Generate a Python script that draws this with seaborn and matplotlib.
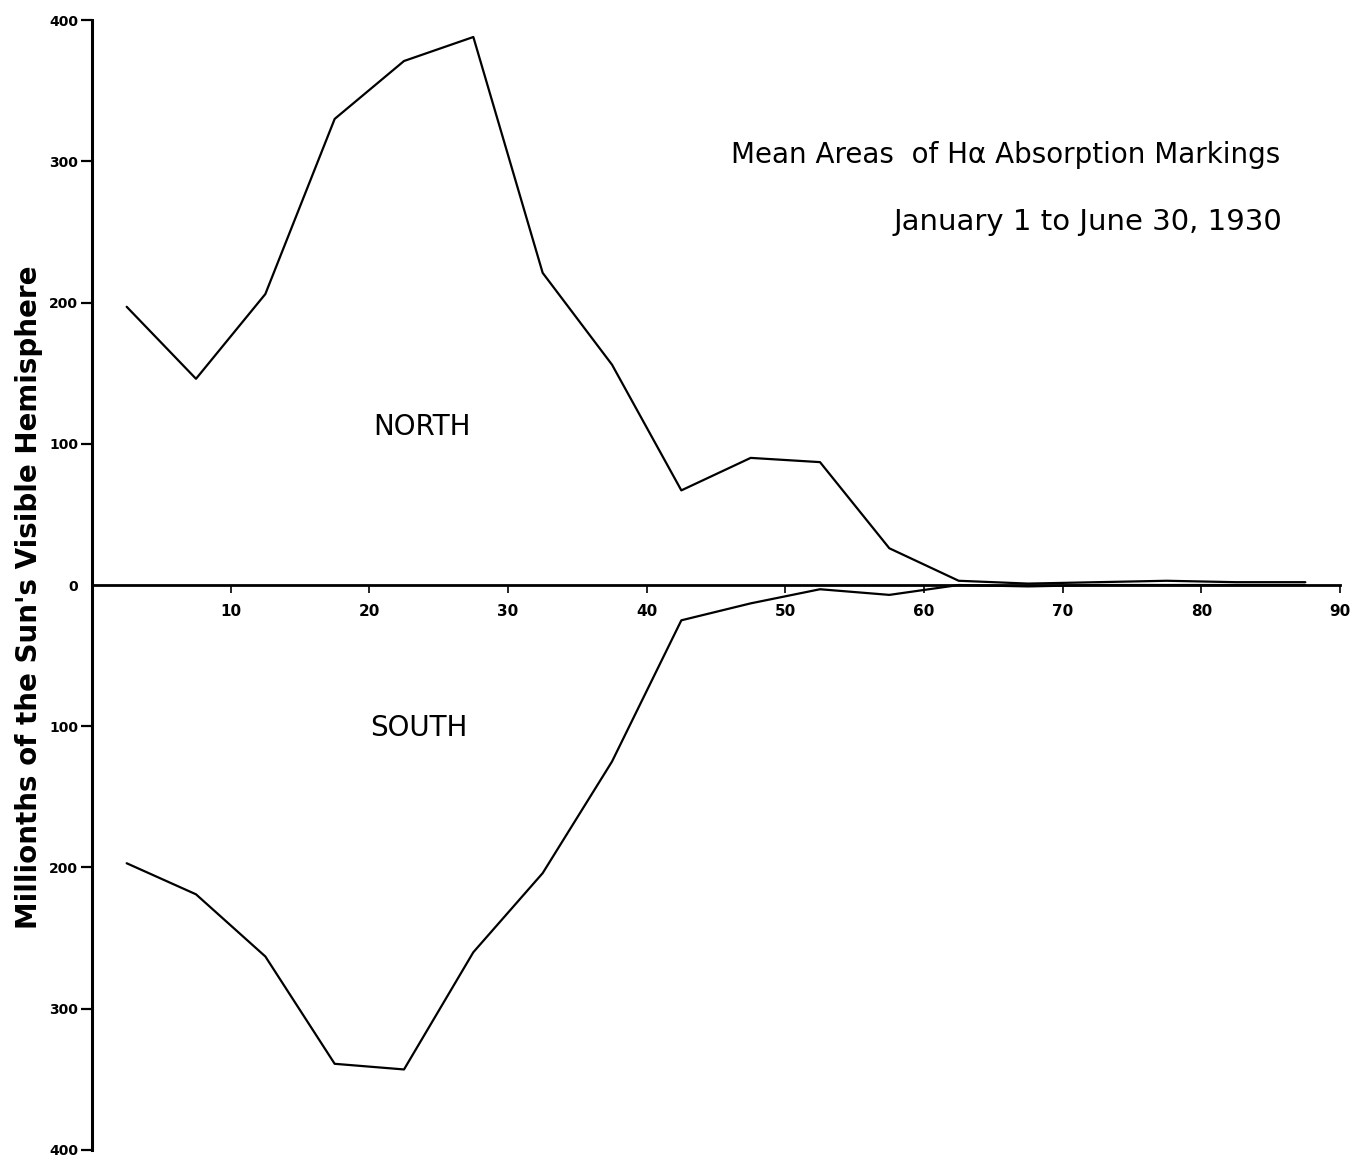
import numpy as np
import pandas as pd
import matplotlib
matplotlib.use("Agg")
import matplotlib.pyplot as plt
import seaborn as sns

# latitude bin centres (degrees)
latitudes = [2.5, 7.5, 12.5, 17.5, 22.5, 27.5, 32.5, 37.5, 42.5,
             47.5, 52.5, 57.5, 62.5, 67.5, 72.5, 77.5, 82.5, 87.5]
# mean areas, millionths of the sun's visible hemisphere
north_area = [197, 146, 206, 330, 371, 388, 221, 156, 67,
              90, 87, 26, 3, 1, 2, 3, 2, 2]
south_area = [197, 219, 263, 339, 343, 260, 204, 125, 25,
              13, 3, 7, 0, 1, 0, 0, 0, 0]

y_ticks = [400, 300, 200, 100, 0, -100, -200, -300, -400]
y_tick_labels = ['400', '300', '200', '100', '0', '100', '200', '300', '400']
x_ticks = [10, 20, 30, 40, 50, 60, 70, 80, 90]

title_1 = 'Mean Areas  of H\u03b1 Absorption Markings'
title_2 = 'January 1 to June 30, 1930'
y_label = "Millionths of the Sun's Visible Hemisphere"

# long table, south drawn below the axis
df = pd.concat([
    pd.DataFrame({'Latitude': latitudes, 'Area': north_area, 'Hemisphere': 'North'}),
    pd.DataFrame({'Latitude': latitudes, 'Area': [-v for v in south_area], 'Hemisphere': 'South'}),
], ignore_index=True)

sns.set_theme(style='white')
plt.rcParams['font.family'] = ['DejaVu Sans']
plt.rcParams['text.color'] = 'black'

fig = plt.figure(figsize=(13.53, 11.59), dpi=100)
ax = fig.add_axes([0.068, 0.0078, 0.9224, 0.9749])

sns.lineplot(data=df, x='Latitude', y='Area', hue='Hemisphere',
             palette=['black', 'black'], linewidth=1.6, legend=False,
             sort=True, ax=ax)

ax.set_xlim(0, 90)
ax.set_ylim(-400, 400)

# axes drawn like the hand-made chart: x axis along zero
for s in ['top', 'right']:
    ax.spines[s].set_visible(False)
ax.spines['bottom'].set_position(('data', 0))
ax.spines['bottom'].set_linewidth(2)
ax.spines['left'].set_linewidth(2.2)
ax.spines['bottom'].set_color('black')
ax.spines['left'].set_color('black')

ax.set_xticks(x_ticks)
ax.set_xticklabels([str(t) for t in x_ticks])
ax.set_yticks(y_ticks)
ax.set_yticklabels(y_tick_labels)
ax.tick_params(axis='x', bottom=True, direction='out', length=6, width=1.2,
               pad=8, labelsize=11, colors='black')
ax.tick_params(axis='y', left=True, direction='out', length=8, width=1.6,
               pad=2, labelsize=10, colors='black')
for lab in ax.get_yticklabels() + ax.get_xticklabels():
    lab.set_fontweight('bold')
# no tick mark at zero on the vertical axis
ax.yaxis.get_major_ticks()[4].tick1line.set_visible(False)

ax.set_xlabel('')
ax.set_ylabel('')
ax.grid(False)

ax.text(23.8, 112, 'NORTH', fontsize=20, ha='center', va='center')
ax.text(23.6, -101, 'SOUTH', fontsize=20, ha='center', va='center')

fig.text(1280 / 1353, 1 - 155 / 1159, title_1, fontsize=20,
         ha='right', va='center')
fig.text(1282 / 1353, 1 - 222 / 1159, title_2, fontsize=21,
         ha='right', va='center')
fig.text(29 / 1353, 1 - 597 / 1159, y_label, fontsize=20, fontweight='bold',
         rotation=90, ha='center', va='center')

fig.savefig('out.png', dpi=100, facecolor='white')
